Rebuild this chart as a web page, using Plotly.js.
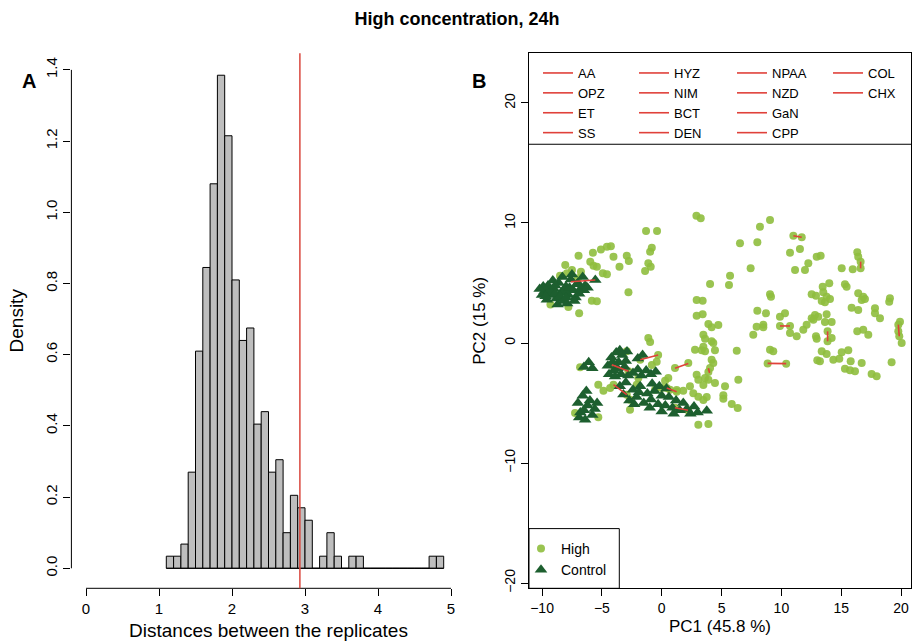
<!DOCTYPE html>
<html><head><meta charset="utf-8">
<script src="https://cdn.plot.ly/plotly-3.0.1.min.js"></script>
<style>html,body{margin:0;padding:0;background:#fff}#chart{width:914px;height:643px}</style>
</head><body><div id="chart"></div>
<script>
// ---------- Panel A: histogram of distances (bin width 0.1) ----------
const binLefts = [1.1,1.2,1.3,1.4,1.5,1.6,1.7,1.8,1.9,2.0,2.1,2.2,2.3,2.4,2.5,2.6,2.7,2.8,2.9,3.0,3.1,3.2,3.3,3.4,3.5,3.6,3.7,3.8,3.9,4.0,4.1,4.2,4.3,4.4,4.5,4.6,4.7,4.8];
const densities = [0.034,0.034,0.068,0.27,0.61,0.845,1.08,1.385,1.215,0.81,0.64,0.675,0.405,0.44,0.27,0.305,0.10,0.205,0.17,0.135,0,0.034,0.10,0.034,0,0.034,0.034,0,0,0,0,0,0,0,0,0,0.034,0.034];
const binWidth = 0.1;
const thresholdDistance = 2.93;
const aTicksX = [0,1,2,3,4,5];
const aTicksY = [0,0.2,0.4,0.6,0.8,1.0,1.2,1.4];

// ---------- Panel B: PCA scores ----------
const highX = [-1.31,-0.39,-0.83,-0.97,-6.95,-5.75,-5.08,-4.58,-4.25,-4.03,-2.92,-2.75,-5.97,-5.7,-5.42,-3.53,-1.12,-0.92,-1.39,-8.06,-7.5,-7.92,-6.75,-4.92,-4.58,-2.78,-5.84,-5.42,-6.9,-8.5,-7.0,-9.3,-7.8,
 2.9,3.26,9.05,8.21,6.54,7.99,7.43,5.71,5.62,4.04,2.92,3.42,2.92,3.42,9.05,9.13,7.99,8.71,9.88,
 11.0,11.7,10.72,11.55,12.95,13.28,12.25,11.14,11.97,15.04,15.96,16.34,16.42,16.62,16.62,15.31,15.45,14.0,13.45,12.53,12.89,13.5,13.78,13.37,14.06,13.64,16.42,16.84,16.98,16.71,19.07,19.01,15.87,16.42,17.82,17.82,10.3,12.81,13.08,12.53,13.78,18.24,19.91,
 9.88,10.72,12.11,11.83,12.67,13.64,14.2,10.72,11.28,12.89,12.95,13.86,13.86,14.2,16.34,16.84,17.26,19.77,19.77,19.85,20.05,13.37,13.78,15.04,15.59,13.0,13.22,14.34,14.84,15.79,16.71,19.21,15.31,15.73,16.15,17.54,17.96,
 3.9,4.17,4.73,3.48,3.62,4.17,4.31,2.78,3.34,3.62,4.45,3.48,4.17,4.31,4.04,3.9,2.92,3.06,3.62,3.9,4.45,6.27,6.4,5.29,5.15,5.15,5.85,6.35,3.76,2.36,1.8,3.06,3.9,0.55,0.28,0.0,0.69,1.11,2.22,7.65,8.49,8.49,9.05,9.32,8.85,10.4,7.93,3.06,3.48,2.64,3.48,-0.42,-0.83,1.25,
 -1.12,-0.97,-6.82,-4.87,-4.31,-2.65,-2.65,-7.24,-5.3,-5.3,-2.09,-0.56,-2.92,-1.95,-4.17,-2.78,-1.8,-0.3,-4.03,-2.92,1.1,2.2,0.42,1.25];
const highY = [9.33,9.33,7.94,7.6,7.28,7.53,7.8,8.03,8.06,7.19,7.28,6.83,6.78,6.44,6.36,6.36,6.64,6.36,6.0,6.5,6.08,5.81,5.94,5.81,5.72,4.22,3.53,3.47,2.47,5.6,5.4,3.2,3.0,
 10.6,10.39,10.25,9.69,8.31,8.39,6.22,5.61,4.83,4.92,3.58,3.53,2.28,2.39,4.06,3.86,2.69,2.47,2.19,
 8.94,8.81,7.53,7.83,7.19,7.28,6.64,6.08,6.08,6.22,6.14,7.56,7.19,6.78,6.22,4.89,4.69,4.97,4.69,4.06,3.94,4.22,3.86,3.5,3.67,3.39,4.14,3.86,3.67,3.58,3.72,3.44,2.94,2.75,2.89,2.47,2.47,2.33,2.19,2.06,2.39,2.06,1.78,
 1.42,1.42,1.53,1.11,1.94,1.75,1.75,0.83,0.56,0.56,0.36,0.97,0.14,0.42,0.97,1.11,0.69,1.53,0.97,0.56,0.0,-0.69,-0.92,-0.78,-0.61,-1.44,-1.53,-1.39,-1.31,-1.53,-1.67,-1.61,-2.14,-2.28,-2.36,-2.58,-2.78,
 1.58,1.31,1.5,0.69,0.36,0.14,0.0,-0.56,-0.61,-0.69,-0.61,-0.31,-1.39,-1.67,-2.08,-2.42,-2.64,-3.06,-2.92,-3.06,-3.33,-0.64,-3.06,-3.61,-4.36,-4.64,-5.08,-5.42,-4.5,-3.61,-3.97,-6.81,-6.75,-2.92,-3.14,-3.75,-3.89,-2.08,-1.67,0.69,1.53,1.31,-0.56,-0.69,-1.7,-1.72,1.36,-4.47,-4.75,-4.19,-3.5,-1.56,-1.83,-3.92,
 0.42,0.08,-2.03,-3.97,-3.75,-4.72,-5.56,-5.83,-6.19,-3.47,-3.47,-3.89,-0.69,-2.92,-1.81,-2.36,-1.4,-1.0,-3.47,-4.31,-5.4,-5.6,-3.75,-4.06];

const controlX = [-9.8,-9.5,-9.3,-9.0,-8.8,-8.6,-8.4,-8.2,-8.0,-7.8,-7.6,-7.4,-7.2,-7.0,-6.8,-6.6,-6.4,-9.6,-9.1,-8.7,-8.3,-7.9,-7.5,-7.1,-6.9,-6.5,-10.0,-9.4,-8.9,-8.1,-7.7,-6.2,-5.55,-9.9,-8.5,-7.3,-10.2,-9.7,-8.9,-8.0,
 -4.5,-4.2,-4.0,-3.8,-3.6,-3.4,-3.3,-3.1,-2.9,-2.8,-4.4,-3.9,-3.5,-3.0,-4.1,-3.7,
 -6.5,-6.1,-5.8,
 -2.4,-2.0,-1.7,-1.3,-0.9,-0.5,
 -2.0,-1.6,
 -3.5,-3.2,-3.0,-2.7,-2.4,-2.1,-1.8,-1.5,-1.2,-0.9,-0.6,-0.3,0.0,0.3,0.6,0.9,1.2,1.5,1.8,2.1,2.4,2.7,3.0,-0.8,-0.2,0.4,-1.0,0.0,1.0,3.76,-2.3,-1.9,
 -7.0,-6.8,-6.6,-6.4,-6.2,-6.0,-5.8,-5.6,-6.9,-6.3,-5.4,-6.5];
const controlY = [4.3,4.8,4.0,4.5,3.7,5.0,4.2,3.5,4.7,4.0,5.3,4.4,3.8,5.0,4.5,5.5,4.8,3.6,5.2,3.2,5.5,3.3,5.7,4.9,4.1,4.4,4.0,4.4,4.1,4.4,4.6,4.6,5.25,4.7,3.9,3.5,4.5,3.9,4.8,3.8,
 -1.9,-1.2,-2.3,-0.8,-1.6,-2.6,-1.0,-2.0,-0.7,-2.7,-2.6,-2.8,-0.6,-1.5,-1.6,-2.1,
 -2.0,-1.6,-2.1,
 -2.5,-2.2,-2.7,-2.3,-2.6,-2.4,
 -1.3,-1.0,
 -3.6,-4.3,-3.3,-4.8,-3.9,-4.5,-3.6,-5.0,-4.2,-4.7,-4.0,-5.1,-4.4,-5.2,-4.5,-5.4,-4.8,-5.6,-5.0,-5.5,-5.9,-5.3,-5.8,-3.4,-3.6,-3.8,-5.4,-5.7,-5.9,-5.65,-5.1,-4.1,
 -5.0,-5.8,-4.4,-6.4,-5.2,-4.8,-6.0,-5.5,-6.2,-4.0,-5.0,-5.6];

// replicate links, one per compound (legend order, column-major)
const compounds = ['AA','OPZ','ET','SS','HYZ','NIM','BCT','DEN','NPAA','NZD','GaN','CPP','COL','CHX'];
const linkX0 = [-7.6,-4.17,-1.8,-4.03,1.11,1.1,8.85,9.88,11.0,16.62,13.86,19.77,0.42,3.9];
const linkY0 = [5.1,-1.81,-1.4,-3.47,-2.1,-5.4,-1.7,1.42,8.94,6.78,0.97,1.53,-3.75,-2.1];
const linkX1 = [-5.55,-2.78,-0.3,-2.92,2.22,2.2,10.4,10.72,11.7,16.62,13.86,19.85,1.25,4.0];
const linkY1 = [5.25,-2.36,-1.0,-4.31,-1.7,-5.6,-1.72,1.42,8.81,6.22,0.14,0.56,-4.06,-2.5];
const bTicksX = [-10,-5,0,5,10,15,20];
const bTicksY = [-20,-10,0,10,20];

// ---------- geometry (pixels in a 914x643 page) ----------
const W = 914, H = 643;
const px = v => v / W, py = v => 1 - v / H;
const FONT = 'Liberation Sans, Arial, sans-serif';
const RED = '#e0413a';
const HIGH_COL = 'rgba(143,190,62,0.9)';
const CTRL_COL = '#1d5f2f';

const binCenters = binLefts.map(b => b + binWidth / 2);
const traces = [];
traces.push({type:'bar', x:binCenters, y:densities, width:binWidth, xaxis:'x', yaxis:'y',
  marker:{color:'#bebebe', line:{color:'#000', width:1}}, showlegend:false, hoverinfo:'skip'});
traces.push({type:'scatter', mode:'lines', xaxis:'x', yaxis:'y',
  x:[binLefts[0], binLefts[binLefts.length-1] + binWidth], y:[0,0],
  line:{color:'#000', width:1}, showlegend:false, hoverinfo:'skip'});

traces.push({type:'scatter', mode:'markers', name:'High', x:highX, y:highY, xaxis:'x2', yaxis:'y2',
  marker:{symbol:'circle', size:8, color:HIGH_COL}, legend:'legend5'});
traces.push({type:'scatter', mode:'markers', name:'Control', x:controlX, y:controlY, xaxis:'x2', yaxis:'y2',
  marker:{symbol:'triangle-up', size:11, color:CTRL_COL}, legend:'legend5'});
const legendIds = ['legend','legend2','legend3','legend4'];
compounds.forEach((c, i) => {
  traces.push({type:'scatter', mode:'lines', name:c, xaxis:'x2', yaxis:'y2',
    x:[linkX0[i], linkX1[i]], y:[linkY0[i], linkY1[i]],
    line:{color:RED, width:1.6}, legend:legendIds[Math.floor(i/4)]});
});

const axisCommon = {showgrid:false, zeroline:false, ticks:'outside', ticklen:7, tickcolor:'#000',
  tickwidth:1, tickfont:{family:FONT, size:14, color:'#000'}, color:'#000'};
const legendCommon = {orientation:'v', xanchor:'left', yanchor:'top', bgcolor:'rgba(0,0,0,0)',
  borderwidth:0, font:{family:FONT, size:14, color:'#000'}, itemclick:false, itemdoubleclick:false};
const topLegendFont = {family:FONT, size:13, color:'#000'};
const legendTop = py(58);

const layout = {
  width:W, height:H, margin:{l:0,r:0,t:0,b:0}, paper_bgcolor:'#fff', plot_bgcolor:'rgba(0,0,0,0)',
  font:{family:FONT, color:'#000'}, hovermode:false, bargap:0,
  title:{text:'<b>High concentration, 24h</b>', x:0.5, xanchor:'center', y:py(19), yanchor:'middle',
    font:{family:FONT, size:18, color:'#000'}},
  xaxis:Object.assign({}, axisCommon, {domain:[px(71.4), px(465.6)], range:[-0.2,5.2], anchor:'y',
    tickvals:aTicksX, showline:false, tickfont:{family:FONT, size:15, color:'#000'},
    title:{text:'Distances between the replicates', font:{family:FONT, size:19, color:'#000'}, standoff:7}}),
  yaxis:Object.assign({}, axisCommon, {domain:[py(588.3), py(53.3)], range:[-0.0562,1.4466], anchor:'x',
    tickvals:aTicksY, tickformat:'.1f', tickangle:-90, showline:false, tickfont:{family:FONT, size:15, color:'#000'},
    title:{text:'Density', font:{family:FONT, size:19, color:'#000'}, standoff:14}}),
  xaxis2:Object.assign({}, axisCommon, {domain:[px(529), px(911)], range:[-11.09,20.83], anchor:'y2',
    tickvals:bTicksX, showline:true, mirror:true, linecolor:'#000', linewidth:1,
    title:{text:'PC1 (45.8 %)', font:{family:FONT, size:17, color:'#000'}, standoff:5}}),
  yaxis2:Object.assign({}, axisCommon, {domain:[py(588.3), py(53.3)], range:[-20.44,24.14], anchor:'x2',
    tickvals:bTicksY, tickangle:-90, showline:true, mirror:true, linecolor:'#000', linewidth:1,
    title:{text:'PC2 (15 %)', font:{family:FONT, size:17, color:'#000'}, standoff:12}}),
  legend:Object.assign({}, legendCommon, {x:px(538), y:legendTop, font:topLegendFont}),
  legend2:Object.assign({}, legendCommon, {x:px(634), y:legendTop, font:topLegendFont}),
  legend3:Object.assign({}, legendCommon, {x:px(732), y:legendTop, font:topLegendFont}),
  legend4:Object.assign({}, legendCommon, {x:px(828), y:legendTop, font:topLegendFont}),
  legend5:Object.assign({}, legendCommon, {x:px(521), y:py(533)}),
  shapes:[
    {type:'line', xref:'x', yref:'y domain', x0:aTicksX[0], x1:aTicksX[aTicksX.length-1], y0:0, y1:0, line:{color:'#000', width:1}},
    {type:'line', xref:'x domain', yref:'y', x0:0, x1:0, y0:aTicksY[0], y1:aTicksY[aTicksY.length-1], line:{color:'#000', width:1}},
    {type:'line', xref:'x', yref:'y domain', x0:thresholdDistance, x1:thresholdDistance, y0:0, y1:1, line:{color:'#d9473e', width:1.5}},
    {type:'line', xref:'x2 domain', yref:'y2 domain', x0:0, x1:1, y0:0.83, y1:0.83, line:{color:'#000', width:1}},
    {type:'rect', xref:'x2 domain', yref:'y2 domain', x0:0, x1:0.2364, y0:0, y1:0.1116, line:{color:'#000', width:1}}
  ],
  annotations:[
    {text:'<b>A</b>', xref:'paper', yref:'paper', x:px(20), y:py(68), showarrow:false, font:{family:FONT, size:20, color:'#000'}},
    {text:'<b>B</b>', xref:'paper', yref:'paper', x:px(479), y:py(68), showarrow:false, font:{family:FONT, size:20, color:'#000'}}
  ]
};
Plotly.newPlot('chart', traces, layout, {staticPlot:true, displayModeBar:false});
</script></body></html>
